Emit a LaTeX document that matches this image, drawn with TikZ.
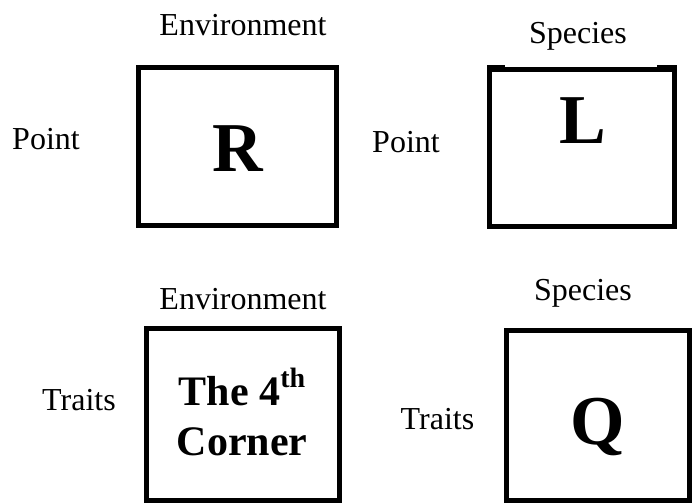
\documentclass[tikz,border=0pt]{standalone}
\usepackage{fontspec}
\setmainfont{Liberation Serif}
\newcommand{\supth}{\raisebox{18bp}{\fontsize{28bp}{28bp}\selectfont th}}
\begin{document}
\begin{tikzpicture}[x=1bp,y=-1bp,
  lbl/.style={font=\fontsize{32bp}{38bp}\selectfont, inner sep=0pt, anchor=base},
  big/.style={font=\fontsize{70bp}{80bp}\selectfont\bfseries, inner sep=0pt, anchor=base},
  frame/.style={draw, line width=5bp, inner sep=0pt, outer sep=0pt},
  corner/.style={font=\fontsize{42bp}{50bp}\selectfont\bfseries, inner sep=0pt, align=center}]
\useasboundingbox (0,0) rectangle (692,504);
% boxes
\node[frame, minimum width=198bp, minimum height=158bp] (Rbox) at (237.5,146.5) {};
\node[frame, minimum width=185bp, minimum height=157bp] (Lbox) at (582,148) {};
\node[frame, minimum width=193bp, minimum height=172bp] (Cbox) at (243,414.5) {};
\node[frame, minimum width=183bp, minimum height=170bp] (Qbox) at (598,415.5) {};
\draw[line width=3bp] (487,66.5) -- (505,66.5);
\draw[line width=3bp] (657,66.5) -- (677,66.5);
% letters
\node[big] (R) at (238,172) {R};
\node[big] (L) at (583,144) {L};
\node[big] (Q) at (598,444) {Q};
\node[corner] (C) at (242,412) {The 4\supth\\Corner};
% labels
\node[lbl] (envtop) at (243,36) {Environment};
\node[lbl] (spectop) at (578,44) {Species};
\node[lbl] (ptleft) at (46,150) {Point};
\node[lbl] (ptright) at (406,153) {Point};
\node[lbl] (envbot) at (243,309) {Environment};
\node[lbl] (specbot) at (583,300) {Species};
\node[lbl] (traitsL) at (79,410) {Traits};
\node[lbl] (traitsR) at (437.5,429) {Traits};
\end{tikzpicture}
\end{document}
